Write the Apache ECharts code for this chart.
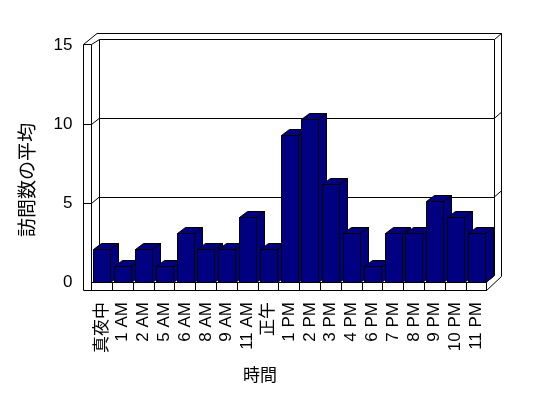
<!DOCTYPE html>
<html><head><meta charset="utf-8">
<script src="https://cdn.jsdelivr.net/npm/echarts@6/dist/echarts.min.js"></script>
<style>html,body{margin:0;padding:0;background:#fff}#c{width:548px;height:398px}</style>
</head><body><div id="c"></div>
<script>
const categories = ['真夜中','1 AM','2 AM','5 AM','6 AM','8 AM','9 AM','11 AM','正午','1 PM','2 PM','3 PM','4 PM','6 PM','7 PM','8 PM','9 PM','10 PM','11 PM'];
const visits = [2,1,2,1,3,2,2,4,2,9,10,6,3,1,3,3,5,4,3];
const yMin = 0, yMax = 15, yStep = 5;
const xTitle = '時間';
const yTitle = '訪問数の平均';

const FONT = '"Liberation Sans", "Noto Sans CJK JP", sans-serif';
const chart = echarts.init(document.getElementById('c'), null, {renderer:'canvas'});

function L(x1,y1,x2,y2){return {type:'line',shape:{x1,y1,x2,y2},style:{stroke:'#000',lineWidth:1,fill:null},z:1,silent:true};}
// wall/floor frame (decoration)
const frame = [
  L(83.5,44.5,83.5,290.5), L(91.5,44.5,91.5,282), L(83.5,44.5,91.5,44.5),
  L(83.5,44.5,97,33.5), L(91.5,44.5,99.5,39.5), L(97,33.5,501.5,33.5),
  L(99.5,39.5,99.5,275.5), L(494.5,39.5,494.5,275.5), L(501.5,33.5,501.5,276.5),
  L(494.5,39.5,501.5,33.5), L(494.5,118.2,501.5,112.2), L(494.5,196.8,501.5,190.8),
  L(83.5,124.5,91.5,124.5), L(91.5,124.5,99.5,118.2),
  L(83.5,203.5,91.5,203.5), L(91.5,203.5,99.5,196.8),
  L(83.5,290.5,486.5,290.5), L(486.5,282,486.5,290.5),
  L(486.5,290.5,501.5,276.5), L(486.5,282,494.5,275.5)
];
const texts = [
  {type:'text',x:260,y:376,style:{text:xTitle,font:'17px '+FONT,fill:'#000',textAlign:'center',textVerticalAlign:'middle'},z:5},
  {type:'text',x:29,y:180,rotation:Math.PI/2,style:{text:yTitle,font:'19px '+FONT,fill:'#000',textAlign:'center',textVerticalAlign:'middle'},z:5}
];

chart.setOption({
  animation:false,
  backgroundColor:'#fff',
  grid:[
    {left:91.5, right:61.3, top:37.5, bottom:116},
    {left:83.5, width:10, top:45, bottom:116},
    {left:99.5, right:53.5, top:39.5, bottom:122.5}
  ],
  xAxis:[
    {gridIndex:0,type:'category',data:categories,
     axisLine:{lineStyle:{color:'#000',width:1}},
     axisTick:{show:true,length:9,interval:0,lineStyle:{color:'#000'}},
     axisLabel:{interval:0,rotate:90,margin:20,fontSize:17,color:'#000',fontFamily:FONT}},
    {gridIndex:1,type:'value',show:false},
    {gridIndex:2,type:'value',show:false}
  ],
  yAxis:[
    {gridIndex:0,type:'value',min:yMin,max:yMax,interval:yStep,show:false},
    {gridIndex:1,type:'value',min:yMin,max:yMax,interval:yStep,
     axisLine:{show:false},axisTick:{show:false},splitLine:{show:false},
     axisLabel:{margin:11,fontSize:17,color:'#000',fontFamily:FONT}},
    {gridIndex:2,type:'value',min:yMin,max:yMax,interval:yStep,
     axisLine:{show:false},axisTick:{show:false},axisLabel:{show:false},
     splitLine:{show:true,lineStyle:{color:'#000',width:1,type:'solid'}}}
  ],
  graphic:frame.concat(texts),
  series:[{
    type:'custom',xAxisIndex:0,yAxisIndex:0,z:10,
    data:visits.map((v,i)=>[i,v]),
    encode:{x:0,y:1},
    renderItem:function(params,api){
      const i=api.value(0), v=api.value(1);
      const base=api.coord([i,0]), top=api.coord([i,v]);
      const cw=api.size([1,0])[0];
      const x0=Math.round(base[0]-cw/2+cw*0.087)+0.5;
      const w=Math.round(cw*0.837);
      const dx=Math.round(cw*0.365), dy=Math.round(cw*0.274);
      const yb=Math.round(base[1])+0.5, yt=Math.round(top[1])+0.5;
      const st={fill:'#000080',stroke:'#000',lineWidth:1};
      return {type:'group',children:[
        {type:'polygon',shape:{points:[[x0+w,yt],[x0+w+dx,yt-dy],[x0+w+dx,yb-dy],[x0+w,yb]]},style:st},
        {type:'polygon',shape:{points:[[x0,yt],[x0+dx,yt-dy],[x0+w+dx,yt-dy],[x0+w,yt]]},style:st},
        {type:'rect',shape:{x:x0,y:yt,width:w,height:yb-yt},style:st}
      ]};
    }
  }]
});
</script></body></html>
